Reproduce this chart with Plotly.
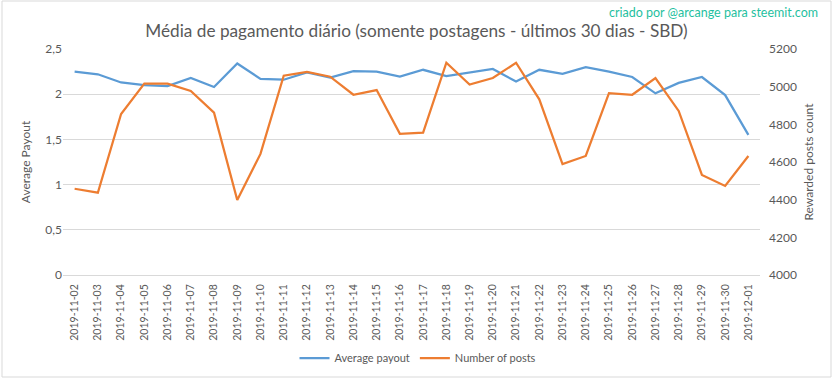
import plotly.graph_objects as go

dates = ["2019-11-02","2019-11-03","2019-11-04","2019-11-05","2019-11-06","2019-11-07",
         "2019-11-08","2019-11-09","2019-11-10","2019-11-11","2019-11-12","2019-11-13",
         "2019-11-14","2019-11-15","2019-11-16","2019-11-17","2019-11-18","2019-11-19",
         "2019-11-20","2019-11-21","2019-11-22","2019-11-23","2019-11-24","2019-11-25",
         "2019-11-26","2019-11-27","2019-11-28","2019-11-29","2019-11-30","2019-12-01"]

avg_payout = [2.25, 2.22, 2.13, 2.10, 2.09, 2.18, 2.08, 2.34, 2.17, 2.16,
              2.24, 2.185, 2.255, 2.25, 2.195, 2.27, 2.20, 2.24, 2.28, 2.14,
              2.27, 2.225, 2.30, 2.25, 2.19, 2.01, 2.125, 2.19, 1.99, 1.55]

num_posts = [4458, 4437, 4855, 5016, 5016, 4977, 4862, 4398, 4643, 5058,
             5078, 5053, 4957, 4982, 4750, 4756, 5127, 5011, 5046, 5127,
             4933, 4589, 4632, 4966, 4957, 5046, 4871, 4531, 4473, 4632]

left_ticks = [0, 0.5, 1, 1.5, 2, 2.5]
left_labels = ["0", "0,5", "1", "1,5", "2", "2,5"]
right_ticks = [4000, 4200, 4400, 4600, 4800, 5000, 5200]

FONT = "Lato"
GREY = "#595959"

fig = go.Figure()
fig.add_trace(go.Scatter(x=dates, y=avg_payout, name="Average payout", mode="lines",
                         line=dict(color="#5B9BD5", width=2.25), yaxis="y"))
fig.add_trace(go.Scatter(x=dates, y=num_posts, name="Number of posts", mode="lines",
                         line=dict(color="#ED7D31", width=2.25), yaxis="y2"))

fig.update_layout(
    width=833, height=379,
    margin=dict(l=63, r=73, t=49, b=104),
    paper_bgcolor="white", plot_bgcolor="white",
    font=dict(family=FONT, color=GREY, size=12),
    title=dict(text="Média de pagamento diário (somente postagens - últimos 30 dias - SBD)",
               x=0.5, xanchor="center", y=1 - 31/379, yanchor="middle", automargin=False,
               font=dict(family=FONT, size=17.2, color=GREY)),
    showlegend=True,
    legend=dict(orientation="h", xref="container", yref="container",
                x=418/833, xanchor="center", y=1 - 358/379, yanchor="middle",
                font=dict(family=FONT, size=11, color=GREY), bgcolor="rgba(0,0,0,0)",
                itemwidth=30, tracegroupgap=0),
    xaxis=dict(type="category", tickangle=-90, showgrid=False, showline=True,
               linecolor="#D9D9D9", linewidth=1, ticks="", automargin=False,
               ticklabelstandoff=4,
               tickfont=dict(family=FONT, size=10.5, color=GREY), range=[-0.5, 29.5]),
    yaxis=dict(range=[0, 2.5], tickvals=left_ticks, ticktext=left_labels, automargin=False,
               showgrid=True, gridcolor="#D9D9D9", gridwidth=1, zeroline=False,
               showline=False, ticks="",
               tickfont=dict(family=FONT, size=12, color=GREY),
               title=dict(text="Average Payout", font=dict(family=FONT, size=12, color=GREY),
                          standoff=12)),
    yaxis2=dict(range=[4000, 5200], tickvals=right_ticks, overlaying="y", side="right",
                showgrid=False, zeroline=False, showline=False, ticks="", automargin=False,
                ticklabelstandoff=8,
                tickfont=dict(family=FONT, size=12, color=GREY),
                title=dict(text="Rewarded posts count", font=dict(family=FONT, size=12, color=GREY),
                           standoff=8)),
)

fig.add_annotation(text="criado por @arcange para steemit.com", xref="paper", yref="paper",
                   x=(820 - 63) / 697, xanchor="right", y=(275 - 13) / 226, yanchor="middle",
                   showarrow=False, font=dict(family=FONT, size=12.5, color="#1FBFA0"))

fig.add_shape(type="rect", xref="paper", yref="paper",
              x0=-61/697, x1=(831 - 63)/697, y0=-(377 - 275)/226, y1=(275 - 1)/226,
              line=dict(color="#D9D9D9", width=1), fillcolor="rgba(0,0,0,0)", layer="below")

post = ("var gd=document.getElementById('{plot_id}');"
        "gd.style.display='block';"
        "document.body.style.margin='0';"
        "document.body.style.overflow='hidden';"
        "document.documentElement.style.overflow='hidden';")

fig.write_html("out.html", config={"displayModeBar": False, "staticPlot": True},
               post_script=post)
